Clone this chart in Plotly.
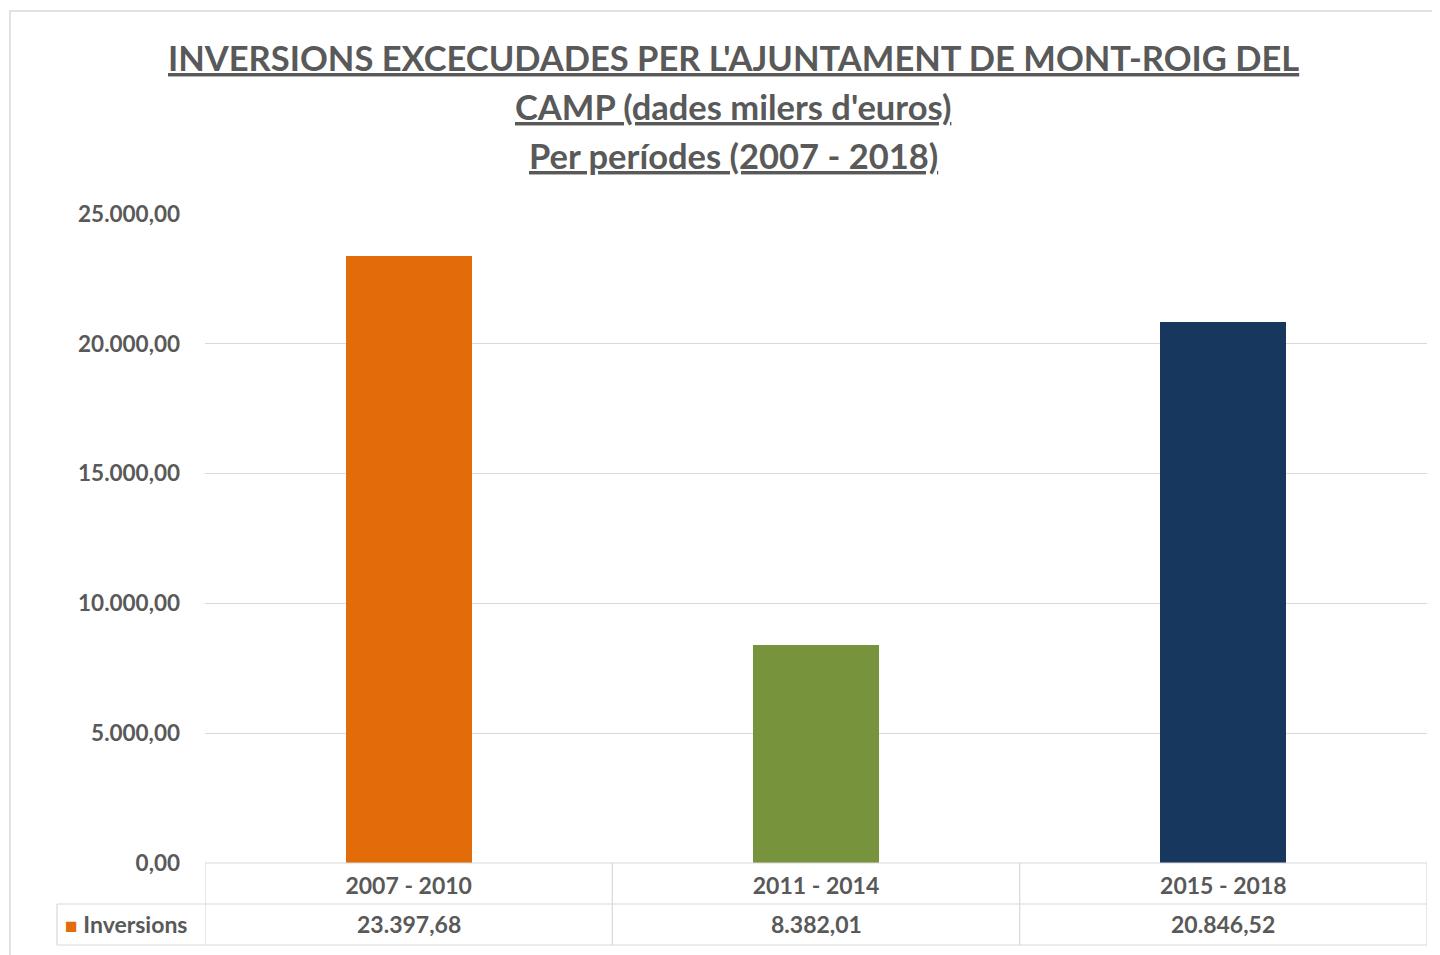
import plotly.graph_objects as go

categories = ["2007 - 2010", "2011 - 2014", "2015 - 2018"]
values = [23397.68, 8382.01, 20846.52]
value_labels = ["23.397,68", "8.382,01", "20.846,52"]
bar_colors = ["#E36C0A", "#77933C", "#17375E"]
series_name = "Inversions"
title_lines = [
    "INVERSIONS EXCECUDADES PER L'AJUNTAMENT DE MONT-ROIG DEL",
    "CAMP (dades milers d'euros)",
    "Per períodes (2007 - 2018)",
]
y_ticks = [0, 5000, 10000, 15000, 20000, 25000]

# the page body has an 8px margin, so work in screen pixels minus 8
OFF = 8
W, H = 1440 - OFF, 955 - OFF
L, T = 205 - OFF, 214 - OFF
R = W - (1427 - OFF)
B = H - (863 - OFF)
ph = H - T - B
pw = W - L - R

def py(pix):
    return (H - B - (pix - OFF)) / ph

def px(pix):
    return ((pix - OFF) - L) / pw

FONT = "Lato"
GRAY = "#595959"
LINE = "#D9D9D9"

fig = go.Figure()
fig.add_trace(go.Bar(
    x=list(range(len(categories))), y=values, marker_color=bar_colors,
    marker_line_width=0, width=0.31, name=series_name, showlegend=False,
))

shapes = []
shapes.append(dict(type="rect", xref="paper", yref="paper",
                   x0=px(10), x1=px(1450), y0=py(965), y1=py(11),
                   line=dict(color="#D9D9D9", width=1.5), layer="below"))
for yy, x0 in [(863, 205), (904, 57), (945, 57)]:
    shapes.append(dict(type="line", xref="paper", yref="paper",
                       x0=px(x0), x1=1, y0=py(yy), y1=py(yy),
                       line=dict(color=LINE, width=1.2)))
for xb in [-0.5, 0.5, 1.5, 2.5]:
    shapes.append(dict(type="line", xref="x", yref="paper",
                       x0=xb, x1=xb, y0=py(863), y1=py(945),
                       line=dict(color=LINE, width=1.2)))
shapes.append(dict(type="line", xref="paper", yref="paper",
                   x0=px(57), x1=px(57), y0=py(904), y1=py(945),
                   line=dict(color=LINE, width=1.2)))

annotations = []
title_y = [58, 106, 155]
for txt, yy in zip(title_lines, title_y):
    annotations.append(dict(text="<u>" + txt + "</u>", xref="paper", yref="paper",
                            x=px(733), y=py(yy), xanchor="center", yanchor="middle",
                            showarrow=False,
                            font=dict(family=FONT, size=34.5, color=GRAY, weight="bold")))
for i, lab in enumerate(value_labels):
    annotations.append(dict(text=lab, xref="x", yref="paper", x=i, y=py(924),
                            xanchor="center", yanchor="middle", showarrow=False,
                            font=dict(family=FONT, size=23, color=GRAY, weight="bold")))
annotations.append(dict(
    text="<span style='color:#E36C0A;font-size:21px'>■</span> " + series_name,
    xref="paper", yref="paper", x=px(63), y=py(924), xanchor="left", yanchor="middle",
    showarrow=False, font=dict(family=FONT, size=23, color=GRAY, weight="bold")))

fig.update_layout(
    width=W, height=H,
    margin=dict(l=L, r=R, t=T, b=B, pad=0),
    paper_bgcolor="white", plot_bgcolor="white",
    separators=",.",
    showlegend=False,
    shapes=shapes, annotations=annotations,
    xaxis=dict(range=[-0.5, 2.5], tickmode="array",
               tickvals=list(range(len(categories))), ticktext=categories,
               showgrid=False, zeroline=False, showline=False, ticks="",
               ticklabelstandoff=7,
               tickfont=dict(family=FONT, size=23, color=GRAY, weight="bold")),
    yaxis=dict(range=[0, 25000], tickvals=y_ticks, tickformat=",.2f",
               showgrid=True, gridcolor=LINE, gridwidth=1.2, zeroline=False,
               showline=False, ticks="", ticklabelstandoff=24,
               tickfont=dict(family=FONT, size=22.5, color=GRAY, weight="bold")),
    bargap=0,
)

fig.write_html("out.html")
